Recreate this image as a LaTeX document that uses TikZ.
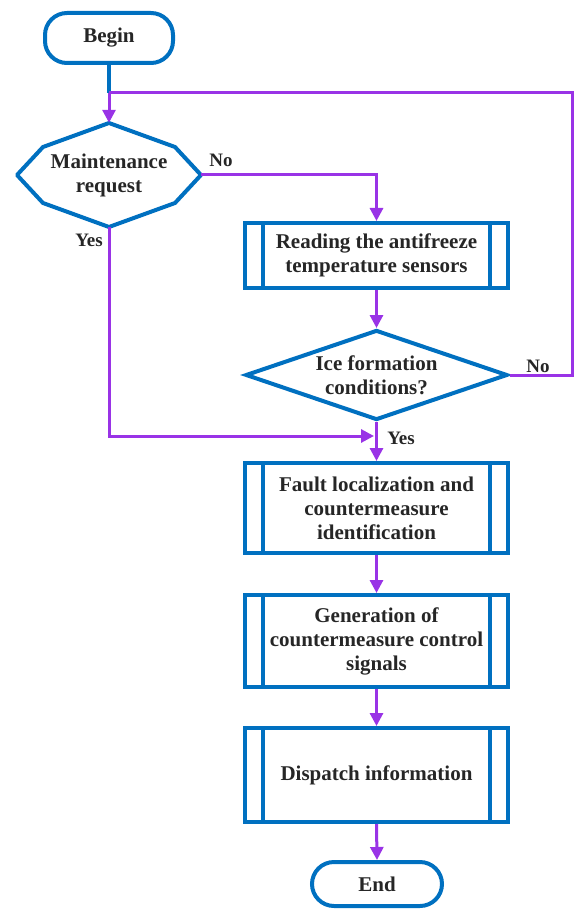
\documentclass[tikz,border=0pt]{standalone}
\usepackage{fontspec}
\setmainfont{Liberation Serif}
\usetikzlibrary{shapes.geometric,arrows.meta}
\definecolor{boxblue}{RGB}{0,112,192}
\definecolor{flowpurple}{RGB}{153,51,230}

\begin{document}
\begin{tikzpicture}[x=1pt,y=-1pt,
   every node/.style={font=\fontsize{21}{24}\selectfont\bfseries,text=black!85},
   term/.style={draw=boxblue,line width=4pt,rounded corners=22pt,align=center},
   procbox/.style={draw=boxblue,line width=4pt,minimum width=263pt,align=center,
      path picture={\draw[boxblue,line width=4pt]
         ([xshift=18pt]path picture bounding box.north west) -- ([xshift=18pt]path picture bounding box.south west)
         ([xshift=-18pt]path picture bounding box.north east) -- ([xshift=-18pt]path picture bounding box.south east);}},
   decision/.style={draw=boxblue,line width=4pt,diamond,aspect=2.9,minimum width=262pt,minimum height=90pt,inner sep=0pt,align=center},
   flow/.style={draw=flowpurple,line width=3pt,-{Triangle[width=13pt,length=13pt]}},
   lbl/.style={font=\fontsize{19}{21}\selectfont\bfseries}]
   \useasboundingbox (0,0) rectangle (573,909);

   % boxes
   \node[term,minimum width=128pt,minimum height=50pt] (begin) at (109,38) {Begin};
   \node[minimum width=184pt,minimum height=104pt,inner sep=0pt,align=center] (req) at (109,175) {Maintenance\\request};
   \draw[boxblue,line width=4pt,line join=round] (req.center) ++(0,-52) -- ++(66,24) -- ++(26,28) -- ++(-26,28)
      -- ++(-66,24) -- ++(-66,-24) -- ++(-26,-28) -- ++(26,-28) -- cycle;
   \node[procbox,minimum height=65pt] (read) at (376.5,255.5) {Reading the antifreeze\\temperature sensors};
   \node[decision] (ice) at (376.5,375) {Ice formation\\conditions?};
   \node[procbox,minimum height=90pt] (fault) at (376.5,508) {Fault localization and\\countermeasure\\identification};
   \node[procbox,minimum height=92pt] (gen) at (376.5,641) {Generation of\\countermeasure control\\signals};
   \node[procbox,minimum height=94pt] (disp) at (376.5,775) {Dispatch information};
   \node[term,minimum width=130pt,minimum height=44pt] (end) at (377,884) {End};

   % connectors
   \coordinate (join) at (109,93);
   \coordinate (rt) at (572,93);
   \coordinate (merge) at (374,436);
   \draw[boxblue,line width=4pt] (begin.south) -- (join);
   \draw[flow] (join) -- (req.north);
   \draw[flow] (req.east) -| (read.north);
   \draw[flow] (read.south) -- (ice.north);
   \draw[flow,-] (ice.east) -| (rt) -- (join);
   \draw[flow] (req.south) |- (merge);
   \draw[flow] (ice.south) -- (fault.north);
   \draw[flow] (fault.south) -- (gen.north);
   \draw[flow] (gen.south) -- (disp.north);
   \draw[flow] (disp.south) -- (end.north);

   % labels
   \node[lbl] (no1) at (221,160) {No};
   \node[lbl] (yes1) at (89,240) {Yes};
   \node[lbl] (no2) at (538,366) {No};
   \node[lbl] (yes2) at (401,438) {Yes};
\end{tikzpicture}
\end{document}
